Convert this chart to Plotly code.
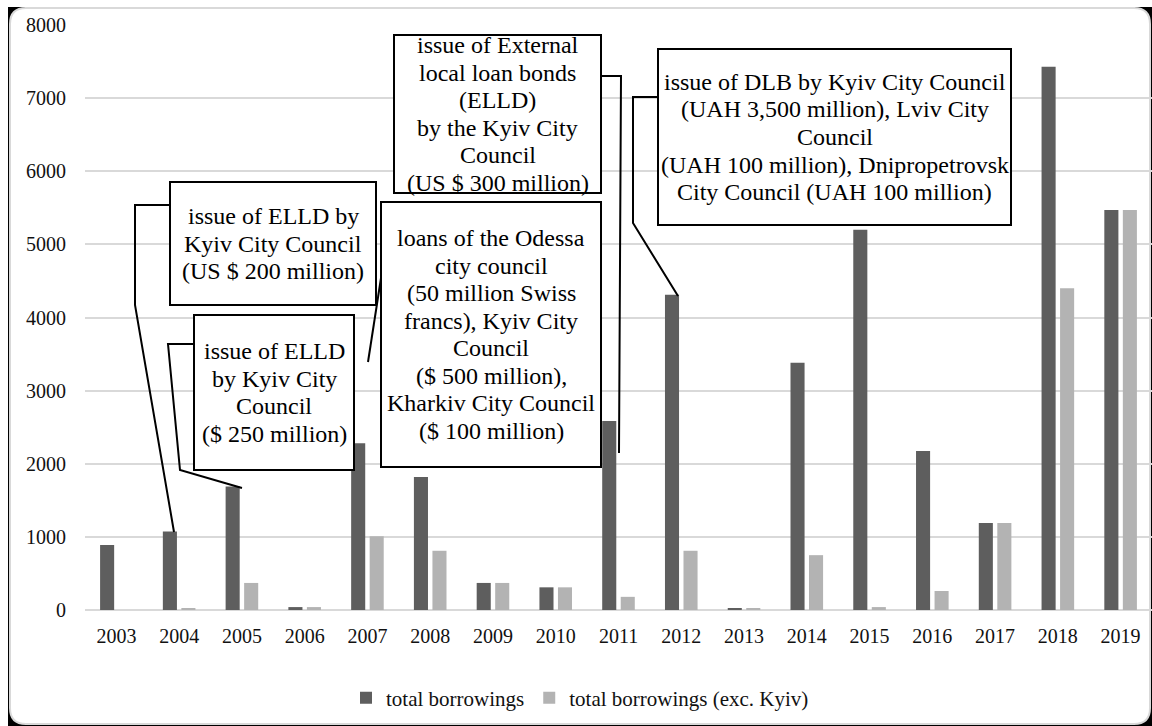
import plotly.graph_objects as go

# ---------------- data ----------------
years = ["2003", "2004", "2005", "2006", "2007", "2008", "2009", "2010", "2011",
         "2012", "2013", "2014", "2015", "2016", "2017", "2018", "2019"]
total_borrowings = [890, 1075, 1690, 40, 2280, 1820, 370, 310, 2585,
                    4310, 25, 3380, 5200, 2175, 1190, 7430, 5470]
total_exc_kyiv = [0, 25, 370, 40, 1010, 810, 370, 310, 180,
                  810, 25, 750, 40, 260, 1190, 4400, 5470]
y_ticks = [0, 1000, 2000, 3000, 4000, 5000, 6000, 7000, 8000]

# ---------------- layout constants ----------------
W, H = 1152, 726
PL, PR, PT, PB = 85, 1152, 25, 610   # plot area in pixels
FONT = "Liberation Serif"

def fx(px):
    return (px - PL) / (PR - PL)

def fy(py):
    return (PB - py) / (PB - PT)

callouts = [
    dict(box=(170, 182, 376, 305),
         lines=["issue of ELLD by", "Kyiv City Council", "(US $ 200 million)"],
         leader=[(170, 205), (135, 205), (135, 305), (174, 532)]),
    dict(box=(194, 315, 354, 470),
         lines=["issue of ELLD", "by Kyiv City", "Council", "($ 250 million)"],
         leader=[(194, 344), (168, 344), (180, 470), (242, 488)]),
    dict(box=(381, 202, 601, 467),
         lines=["loans of the Odessa", "city council", "(50 million Swiss",
                "francs), Kyiv City", "Council", "($ 500 million),",
                "Kharkiv City Council", "($ 100 million)"],
         leader=[(381, 278), (368, 362)]),
    dict(box=(394, 35, 601, 193),
         lines=["issue of External", "local loan bonds", "(ELLD)",
                "by the Kyiv City", "Council", "(US $ 300 million)"],
         leader=[(601, 76), (621, 76), (619, 453)]),
    dict(box=(658, 49, 1011, 225),
         lines=["issue of DLB by Kyiv City Council",
                "(UAH 3,500 million), Lviv City", "Council",
                "(UAH 100 million), Dnipropetrovsk",
                "City Council (UAH 100 million)"],
         leader=[(658, 97), (633, 97), (633, 223), (678, 296)]),
]
LINE_H = 27.6

fig = go.Figure()
fig.add_trace(go.Bar(x=years, y=total_borrowings, name="total borrowings",
                     marker=dict(color="#5e5e5e", line=dict(width=0))))
fig.add_trace(go.Bar(x=years, y=total_exc_kyiv, name="total borrowings (exc. Kyiv)",
                     marker=dict(color="#b3b3b3", line=dict(width=0))))

shapes = []
# outer chart frame (black corners + white rounded rectangle)
shapes.append(dict(type="rect", xref="paper", yref="paper", layer="below",
                   x0=fx(8), x1=fx(1152), y0=fy(726), y1=fy(7),
                   fillcolor="black", line=dict(width=0)))
r = 16
x0, y0, x1, y1 = 10, 8, 1150, 724
def P(x, y):
    return f"{fx(x)},{fy(y)}"
path = (f"M {P(x0 + r, y0)} L {P(x1 - r, y0)} Q {P(x1, y0)} {P(x1, y0 + r)} "
        f"L {P(x1, y1 - r)} Q {P(x1, y1)} {P(x1 - r, y1)} L {P(x0 + r, y1)} "
        f"Q {P(x0, y1)} {P(x0, y1 - r)} L {P(x0, y0 + r)} Q {P(x0, y0)} {P(x0 + r, y0)} Z")
shapes.append(dict(type="path", xref="paper", yref="paper", layer="below", path=path,
                   fillcolor="white", line=dict(color="#d9d9d9", width=2)))

annotations = []
for c in callouts:
    pts = c["leader"]
    p = "M " + " L ".join(P(x, y) for x, y in pts)
    shapes.append(dict(type="path", xref="paper", yref="paper", layer="above", path=p,
                       line=dict(color="black", width=2)))
for c in callouts:
    bx0, by0, bx1, by1 = c["box"]
    shapes.append(dict(type="rect", xref="paper", yref="paper", layer="above",
                       x0=fx(bx0), x1=fx(bx1), y0=fy(by1), y1=fy(by0),
                       fillcolor="white", line=dict(color="black", width=2)))
    cx = (bx0 + bx1) / 2
    cy = (by0 + by1) / 2
    n = len(c["lines"])
    for i, t in enumerate(c["lines"]):
        ly = cy + (i - (n - 1) / 2) * LINE_H
        annotations.append(dict(text=t, xref="paper", yref="paper", x=fx(cx), y=fy(ly),
                                xanchor="center", yanchor="middle", showarrow=False,
                                font=dict(family=FONT, size=24, color="black")))

fig.update_layout(
    width=W, height=H,
    margin=dict(l=PL, r=W - PR, t=PT, b=H - PB, pad=0),
    paper_bgcolor="white", plot_bgcolor="rgba(0,0,0,0)",
    barmode="group", bargap=0.41, bargroupgap=0.24,
    font=dict(family=FONT, size=20, color="#111111"),
    showlegend=True,
    legend=dict(orientation="h", x=fx(580), xanchor="center", y=fy(698), yanchor="middle",
                font=dict(family=FONT, size=21, color="#111111"),
                bgcolor="rgba(0,0,0,0)", traceorder="normal"),
    shapes=shapes, annotations=annotations,
)
fig.update_xaxes(type="category", showgrid=False, showline=False, zeroline=False,
                 ticks="", tickfont=dict(family=FONT, size=20, color="#111111"),
                 ticklabelstandoff=12)
fig.update_yaxes(range=[0, 8000], tickvals=y_ticks, showgrid=True, gridcolor="#d9d9d9",
                 gridwidth=2, zeroline=True, zerolinecolor="#d9d9d9", zerolinewidth=2,
                 showline=False, ticks="", tickfont=dict(family=FONT, size=20, color="#111111"),
                 ticklabelstandoff=18)

fig.write_html("out.html", config={"displayModeBar": False},
               post_script="document.body.style.margin='0';document.body.style.overflow='hidden';")
